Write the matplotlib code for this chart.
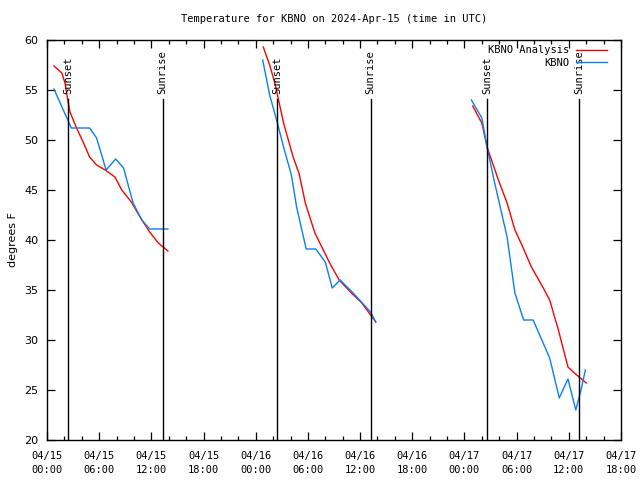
import datetime as dt
import matplotlib
matplotlib.use('Agg')
import matplotlib.pyplot as plt
import matplotlib.dates as mdates

start = dt.datetime(2024, 4, 15, 0, 0)

# hours after 04/15 00:00 UTC
anl_hours_1 = [0.8, 1.7, 2.07, 2.45, 2.64, 3.4, 4.2, 4.9, 5.7, 6.7, 7.8, 8.6, 9.7, 10.7, 11.8, 12.8, 13.9]
anl_temps_1 = [57.4, 56.7, 55.7, 53.7, 52.8, 51.2, 49.7, 48.3, 47.5, 47.0, 46.3, 45.0, 43.8, 42.3, 40.8, 39.7, 38.9]
anl_hours_2 = [24.87, 25.6, 26.2, 27.2, 28.3, 29.0, 29.7, 30.8, 31.6, 32.5, 33.6, 35.0, 36.2, 37.8]
anl_temps_2 = [59.3, 57.5, 55.7, 51.7, 48.3, 46.6, 43.7, 40.7, 39.3, 37.7, 36.0, 34.7, 33.7, 31.8]
anl_hours_3 = [48.95, 50.0, 50.6, 51.9, 52.9, 53.8, 54.6, 55.7, 57.0, 57.8, 58.8, 59.9, 60.5, 62.0]
anl_temps_3 = [53.4, 51.7, 49.3, 46.0, 43.7, 41.0, 39.5, 37.3, 35.3, 34.0, 31.0, 27.3, 26.8, 25.7]

obs_hours_1 = [0.8, 2.8, 4.9, 5.7, 6.8, 7.9, 8.8, 9.9, 10.9, 11.8, 13.9]
obs_temps_1 = [55.1, 51.2, 51.2, 50.2, 47.0, 48.1, 47.2, 43.7, 42.0, 41.1, 41.1]
obs_hours_2 = [24.8, 25.6, 26.4, 27.2, 28.1, 28.7, 29.8, 30.9, 32.0, 32.8, 33.7, 35.2, 37.2, 37.8]
obs_temps_2 = [58.0, 54.5, 52.0, 49.3, 46.5, 43.3, 39.1, 39.1, 37.8, 35.2, 36.0, 34.7, 32.8, 31.8]
obs_hours_3 = [48.8, 50.0, 50.6, 51.4, 52.9, 53.8, 54.8, 55.9, 57.8, 58.9, 59.9, 60.8, 61.4, 61.9]
obs_temps_3 = [54.0, 52.2, 49.3, 46.0, 40.3, 34.7, 32.0, 32.0, 28.2, 24.2, 26.1, 23.0, 25.0, 27.0]

sunset_hours = [2.45, 26.5, 50.6]
sunrise_hours = [13.3, 37.2, 61.2]

def to_time(hours):
    return [start + dt.timedelta(hours=h) for h in hours]

mono = 'DejaVu Sans Mono'
red = '#ff0000'
blue = '#0a80f0'

fig = plt.figure(figsize=(6.4, 4.8), dpi=100)
ax = fig.add_axes([47/640, 1 - 440/480, 574/640, 400/480])

analysis = [(anl_hours_1, anl_temps_1), (anl_hours_2, anl_temps_2), (anl_hours_3, anl_temps_3)]
observed = [(obs_hours_1, obs_temps_1), (obs_hours_2, obs_temps_2), (obs_hours_3, obs_temps_3)]

for i, (h, t) in enumerate(analysis):
    ax.plot(to_time(h), t, color=red, lw=1.0, label='KBNO Analysis' if i == 0 else None)
for i, (h, t) in enumerate(observed):
    ax.plot(to_time(h), t, color=blue, lw=1.0, label='KBNO' if i == 0 else None)

# sunset / sunrise markers
for h in sunset_hours:
    x = start + dt.timedelta(hours=h)
    ax.plot([x, x], [20, 54.1], color='black', lw=1.0)
    ax.text(x, 54.6, 'Sunset', rotation=90, ha='center', va='bottom', fontsize=7.5, family=mono)
for h in sunrise_hours:
    x = start + dt.timedelta(hours=h)
    ax.plot([x, x], [20, 54.1], color='black', lw=1.0)
    ax.text(x, 54.6, 'Sunrise', rotation=90, ha='center', va='bottom', fontsize=7.5, family=mono)

ax.set_xlim(start, start + dt.timedelta(hours=66))
ax.set_ylim(20, 60)
ax.set_yticks(range(20, 61, 5))

ax.xaxis.set_major_locator(mdates.HourLocator(byhour=[0, 6, 12, 18]))
ax.xaxis.set_minor_locator(mdates.HourLocator(byhour=range(0, 24, 2)))
ax.xaxis.set_major_formatter(mdates.DateFormatter('%m/%d\n%H:%M'))

ax.tick_params(axis='both', which='both', direction='in', top=True, right=True, width=0.9)
ax.tick_params(axis='both', which='major', length=6)
ax.tick_params(axis='x', which='minor', length=3)
ax.tick_params(axis='x', which='major', pad=8)
ax.tick_params(axis='y', which='major', labelsize=8, pad=6)
for lbl in ax.get_xticklabels():
    lbl.set_family(mono)
    lbl.set_fontsize(7.5)
    lbl.set_linespacing(1.45)

for sp in ax.spines.values():
    sp.set_linewidth(1.0)

ax.set_ylabel('degrees F', fontsize=8)
ax.yaxis.set_label_coords(-0.05, 0.5)

fig.text(334/640, 1 - 19/480, 'Temperature for KBNO on 2024-Apr-15 (time in UTC)',
         ha='center', va='center', fontsize=7.5, family=mono)

leg = ax.legend(loc='upper right', bbox_to_anchor=(0.985, 1.0), frameon=False,
                markerfirst=False, handlelength=3.0, handletextpad=0.6,
                labelspacing=0.25, borderaxespad=0.1, prop={'family': mono, 'size': 7.5})

fig.savefig('out.png', dpi=100)
